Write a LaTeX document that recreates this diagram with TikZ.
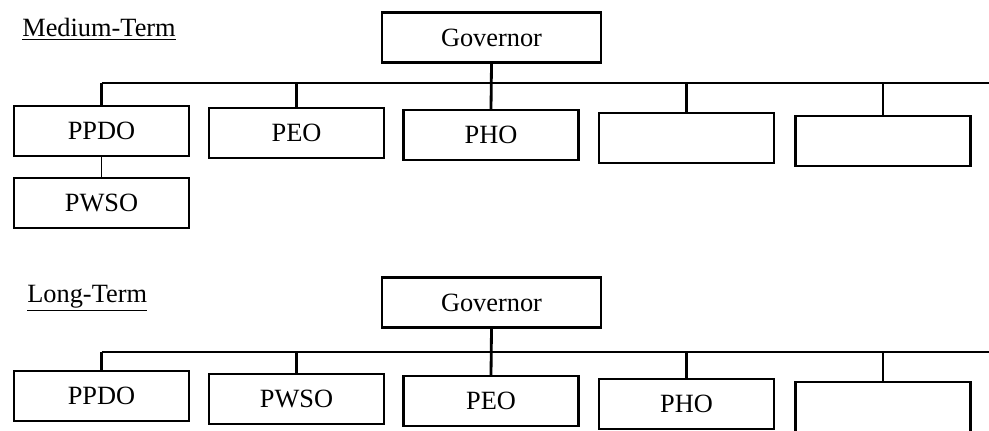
\documentclass[tikz,border=0pt]{standalone}
\usepackage{fontspec}
\setmainfont{Liberation Serif}
\usepackage{tikz}
\usetikzlibrary{calc}

\begin{document}
\begin{tikzpicture}[x=0.2mm, y=-0.2mm,
        office/.style={draw, line width=1.2pt, minimum width=35mm, minimum height=10mm, inner sep=0pt, font=\fontsize{15}{17}\selectfont},
        head/.style={office, minimum width=43.8mm},
        bus/.style={line width=0.9pt},
        stem/.style={line width=1.6pt},
        term/.style={anchor=base west, inner sep=0pt, font=\fontsize{15}{17}\selectfont}]
        \useasboundingbox (0,0) rectangle (989,431);
        % medium-term
        \node[term] (medlbl) at (22,37) {\underline{Medium-Term}};
        \node[head] (govA) at (491.5,37.5) {Governor};
        \node[office] (ppdoA) at (101.5,131) {PPDO};
        \node[office] (peoA) at (296.5,133) {PEO};
        \node[office] (phoA) at (491,135) {PHO};
        \node[office] (blankA) at (686.5,138) {};
        \node[office] (emptyA) at (883,141) {};
        \node[office] (pwsoA) at (101.5,203) {PWSO};
        \coordinate (busAL) at (101.5,83);
        \coordinate (busAR) at (989,83);
        \draw[bus] (busAL) -- (busAR);
        \draw[stem] (govA.south) -- (phoA.north);
        \foreach \n in {ppdoA, peoA, blankA, emptyA}
            \draw[stem] (\n.north) -- (\n.north |- busAL);
        \draw[bus] (ppdoA.south) -- (pwsoA.north);
        % long-term
        \node[term] (longlbl) at (27,302) {\underline{Long-Term}};
        \node[head] (govB) at (491.5,302.5) {Governor};
        \node[office] (ppdoB) at (101.5,396) {PPDO};
        \node[office] (pwsoB) at (296.5,399) {PWSO};
        \node[office] (peoB) at (491,401) {PEO};
        \node[office] (phoB) at (686.5,404) {PHO};
        \node[office] (emptyB) at (883,407) {};
        \coordinate (busBL) at (101.5,352);
        \coordinate (busBR) at (989,352);
        \draw[bus] (busBL) -- (busBR);
        \draw[stem] (govB.south) -- (peoB.north);
        \foreach \n in {ppdoB, pwsoB, phoB, emptyB}
            \draw[stem] (\n.north) -- (\n.north |- busBL);
\end{tikzpicture}
\end{document}
